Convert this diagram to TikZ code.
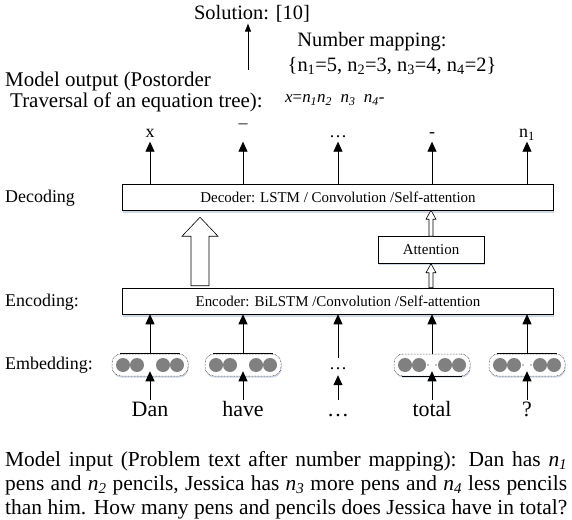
\documentclass[tikz,border=0pt]{standalone}
\usepackage{fontspec}
\setmainfont{Liberation Serif}
\usepackage{xcolor}
\usepackage{tikz}
\usetikzlibrary{positioning, arrows.meta, calc, shadows}
\definecolor{DotGry}  {HTML}{808080}
\definecolor{ShadeBlu}{HTML}{C9D3E2}

\newcommand{\fsz}[1]{\fontsize{#1}{#1}\selectfont}
\newcommand{\nv}[1]{\textit{n}\textsubscript{\textit{#1}}}

% hollow block arrow pointing up: from, to, half shaft, half head, head length
\newcommand{\hollowup}[5]{%
  \draw[fill=white, line width=0.6pt] let \p1=(#1), \p2=(#2) in
    (\x1-#3,\y1) -- (\x1-#3,\y2-#5) -- (\x1-#4,\y2-#5) -- (\x1,\y2)
    -- (\x1+#4,\y2-#5) -- (\x1+#3,\y2-#5) -- (\x1+#3,\y1) -- cycle;}

\tikzset{
  layerbox/.style={draw, line width=0.5pt, fill=white, minimum width=431bp,
    minimum height=26bp, inner sep=0pt, font=\fsz{15},
    drop shadow={shadow xshift=0.5bp, shadow yshift=-2.5bp, fill=ShadeBlu, opacity=0.9}},
  attbox/.style={draw, line width=0.5pt, fill=white, minimum width=106bp,
    minimum height=27bp, inner sep=0pt, font=\fsz{15},
    drop shadow={shadow xshift=0.5bp, shadow yshift=-1.5bp, fill=ShadeBlu, opacity=0.9}},
  embgroup/.style={draw, densely dotted, line width=0.5pt, fill=white,
    rounded corners=9bp, minimum width=76bp, minimum height=22bp, inner sep=0pt,
    drop shadow={shadow xshift=0.5bp, shadow yshift=-1.5bp, fill=ShadeBlu, opacity=0.9}},
  embdots/.style={minimum width=20bp, minimum height=22bp, inner sep=0pt, font=\fsz{18}},
  barline/.style={line width=0.7pt},
  uparr/.style={-{Triangle[width=9bp,length=10bp]}, line width=0.8pt},
  solarr/.style={-{Triangle[width=6bp,length=8bp]}, line width=0.8pt},
  lbl/.style={anchor=west, inner sep=0pt, font=\fsz{18}},
  tok/.style={font=\fsz{18}, text height=12bp, text depth=3bp, inner sep=1bp},
  word/.style={font=\fsz{22}, text height=15bp, text depth=5bp, inner sep=1bp},
  inputline/.style={anchor=base west, inner sep=0pt, font=\fontsize{21.5}{24}\selectfont}
}

\begin{document}
\begin{tikzpicture}[x=1bp, y=-1bp]
  \useasboundingbox (0,0) rectangle (572,520);
  % ── top: solution and number mapping ───────────────────────────────────────
  \node[font=\fsz{20.5}, inner sep=1bp] (sol) at (252,14) {Solution: [10]};
  \coordinate (solfoot) at (248,70);
  \draw[solarr] (solfoot) -- (solfoot |- sol.south);
  \node[font=\fsz{20.5}, inner sep=0pt] (nmap) at (372,42) {Number mapping:};
  \node[font=\fsz{20.5}, inner sep=0pt] (nvals) at (392,66)
    {\{n\textsubscript{1}=5, n\textsubscript{2}=3, n\textsubscript{3}=4, n\textsubscript{4}=2\}};
  % ── model output ───────────────────────────────────────────────────────────
  \node[anchor=west, inner sep=0pt, align=left, font=\fontsize{21}{21}\selectfont] (outlbl)
    at (5,92) {Model output (Postorder\\\hspace{5bp}Traversal of an equation tree):};
  \node[anchor=west, inner sep=0pt, font=\fsz{17}] (expr) at (285,100)
    {\textit{x}=\nv{1}\nv{2}~~\nv{3}~~\nv{4}-};
  % ── layers ─────────────────────────────────────────────────────────────────
  \node[layerbox] (dec) at (338,197) {Decoder: LSTM / Convolution /Self-attention};
  \node[layerbox] (enc) at (338,301) {Encoder: BiLSTM /Convolution /Self-attention};
  \node[attbox] (att) at (431,250) {Attention};
  \node[lbl] (ldec) at (5,198) {Decoding};
  \node[lbl] (lenc) at (5,302) {Encoding:};
  \node[lbl] (lemb) at (5,365) {Embedding:};
  % ── output tokens ──────────────────────────────────────────────────────────
  \foreach \i/\x/\t in {1/150/x, 2/243/¯, 3/338/{\dots}, 4/432/-, 5/527/n\textsubscript{1}} {
    \node[tok] (tok\i) at (\x,133) {\t};
    \draw[uparr] (dec.north -| tok\i) -- (tok\i.south);
  }
  % ── encoder to decoder ─────────────────────────────────────────────────────
  \coordinate (bigx) at (200,0);
  \hollowup{$(enc.north -| bigx)+(0,-2)$}{$(dec.south -| bigx)+(0,7)$}{9bp}{18bp}{19bp}
  \hollowup{enc.north -| att.south}{att.south}{2bp}{5bp}{9bp}
  \hollowup{att.north}{dec.south -| att.north}{2bp}{5bp}{9bp}
  % ── embeddings ─────────────────────────────────────────────────────────────
  \foreach \i/\x in {1/150, 2/243, 4/432, 5/527} {
    \node[embgroup] (emb\i) at (\x,365) {};
    \foreach \dx in {-27,-13,13,27}
      \fill[DotGry] ($(emb\i)+(\dx,0)$) circle (7bp);
  }
  \node[embdots] (emb3) at (338,369) {\dots};
  \foreach \i in {1,2,5}
    \draw[barline] ([xshift=8bp]emb\i.north west) -- ([xshift=-8bp]emb\i.north east);
  \draw[barline] ([xshift=8bp]emb4.south west) -- ([xshift=-8bp]emb4.south east);
  \foreach \i in {4,5} { \foreach \dx in {-4,4} {
    \fill ($(emb\i)+(\dx,0)$) circle (0.7bp);
  }}
  % ── input words ────────────────────────────────────────────────────────────
  \foreach \i/\x/\w in {1/150/Dan, 2/243/have, 3/338/{\dots}, 4/432/total, 5/527/?} {
    \node[word] (w\i) at (\x,411) {\w};
    \draw[uparr, shorten >=-5bp] (w\i.north) -- (emb\i.south);
    \draw[uparr] (emb\i.north) -- (emb\i.north |- enc.south);
  }
  % ── model input text ───────────────────────────────────────────────────────
  \node[inputline] (inp1) at (5,466)
    {\makebox[562bp][s]{Model input (Problem text after number mapping): Dan has \nv{1}}};
  \node[inputline] (inp2) at (5,490)
    {\makebox[562bp][s]{pens and \nv{2} pencils, Jessica has \nv{3} more pens and \nv{4} less pencils}};
  \node[inputline] (inp3) at (5,514)
    {\makebox[562bp][s]{than him. How many pens and pencils does Jessica have in total?}};
\end{tikzpicture}
\end{document}
